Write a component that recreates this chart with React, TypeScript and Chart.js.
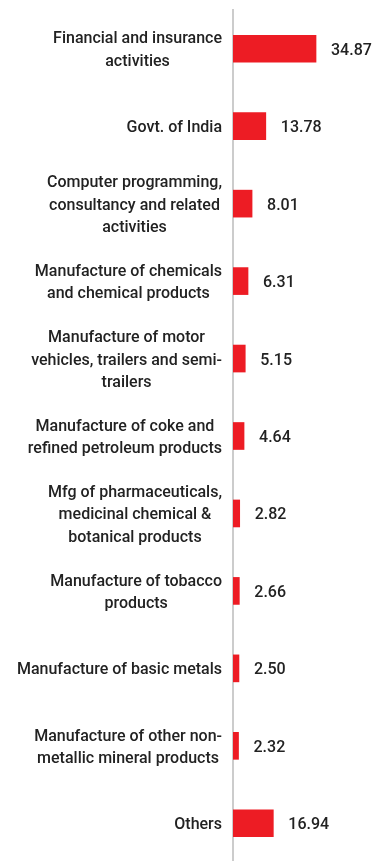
import React, { useEffect, useRef } from "react";
import { Chart, registerables } from "chart.js";

Chart.register(...registerables);

const categories: string[][] = [
  ["Financial and insurance", "activities"],
  ["Govt. of India"],
  ["Computer programming,", "consultancy and related", "activities"],
  ["Manufacture of chemicals", "and chemical products"],
  ["Manufacture of motor", "vehicles, trailers and semi-", "trailers"],
  ["Manufacture of coke and", "refined petroleum products"],
  ["Mfg of pharmaceuticals,", "medicinal chemical &", "botanical products"],
  ["Manufacture of tobacco", "products"],
  ["Manufacture of basic metals"],
  ["Manufacture of other non-", "metallic mineral products"],
  ["Others"],
];

const values: number[] = [34.87, 13.78, 8.01, 6.31, 5.15, 4.64, 2.82, 2.66, 2.5, 2.32, 16.94];

const valueLabels: string[] = ["34.87", "13.78", "8.01", "6.31", "5.15", "4.64", "2.82", "2.66", "2.50", "2.32", "16.94"];

const FONT = "500 16px Roboto";
const TEXT_COLOR = "#222222";

const labelPlugin = {
  id: "customLabels",
  afterDatasetsDraw(chart: any) {
    const ctx = chart.ctx;
    const yScale = chart.scales.y;
    const meta = chart.getDatasetMeta(0);
    ctx.save();
    ctx.font = FONT;
    ctx.fillStyle = TEXT_COLOR;
    ctx.textBaseline = "middle";
    const rightEdge = chart.chartArea.left - 11;
    const lineH = 22.5;
    categories.forEach((lines, i) => {
      const yc = yScale.getPixelForValue(i) + 2;
      let maxW = 0;
      lines.forEach((l) => {
        maxW = Math.max(maxW, ctx.measureText(l).width);
      });
      const cx = rightEdge - maxW / 2;
      ctx.textAlign = "center";
      const startY = yc - ((lines.length - 1) * lineH) / 2;
      lines.forEach((l, j) => {
        ctx.fillText(l, cx, startY + j * lineH);
      });
      const bar = meta.data[i];
      ctx.textAlign = "left";
      ctx.fillText(valueLabels[i], bar.x + 15, yc);
    });
    ctx.restore();
  },
};

export default function App() {
  const ref = useRef<HTMLCanvasElement | null>(null);
  useEffect(() => {
    if (!ref.current) return;
    const chart = new Chart(ref.current, {
      type: "bar",
      data: {
        labels: categories.map((c) => c.join(" ")),
        datasets: [
          {
            data: values,
            backgroundColor: "#ed1c24",
            barThickness: 27,
          },
        ],
      },
      options: {
        indexAxis: "y",
        animation: false,
        responsive: true,
        maintainAspectRatio: false,
        layout: { padding: { top: 2, right: 0, bottom: 0, left: 0 } },
        plugins: {
          legend: { display: false },
          tooltip: { enabled: false },
        },
        scales: {
          x: {
            display: false,
            min: 0,
            max: 63,
          },
          y: {
            afterFit(axis: any) {
              axis.width = 225;
            },
            ticks: { display: false },
            grid: { display: false, drawTicks: false },
            border: { display: true, color: "#cccccc", width: 2 },
          },
        },
      },
      plugins: [labelPlugin],
    });
    return () => chart.destroy();
  }, []);
  return (
    <div style={{ width: 375, height: 854, position: "relative" }}>
      <canvas ref={ref} />
    </div>
  );
}
